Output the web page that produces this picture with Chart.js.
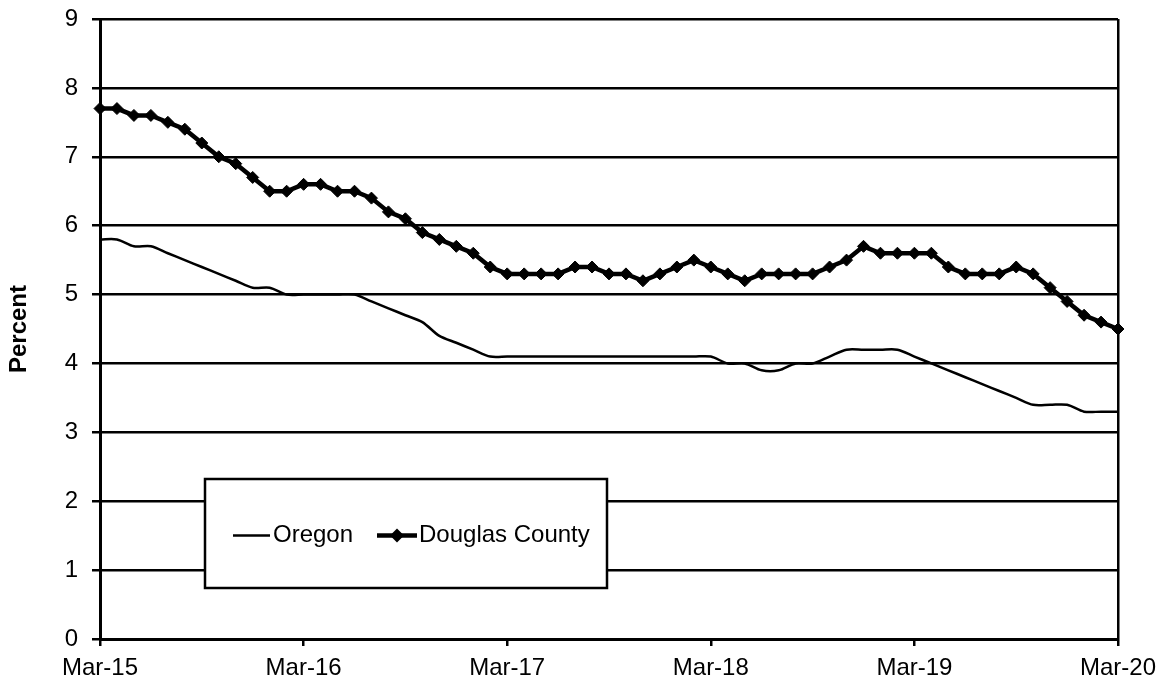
<!DOCTYPE html>
<html>
<head>
<meta charset="utf-8">
<script src="https://cdn.jsdelivr.net/npm/chart.js@4/dist/chart.umd.min.js"></script>
<style>
  html, body { margin: 0; padding: 0; background: #fff; }
  #wrap { width: 1167px; height: 681px; }
</style>
</head>
<body>
<div id="wrap"><canvas id="chart"></canvas></div>
<script>
// monthly, Mar-15 .. Mar-20
const months = [
  'Mar-15','Apr-15','May-15','Jun-15','Jul-15','Aug-15','Sep-15','Oct-15','Nov-15','Dec-15',
  'Jan-16','Feb-16','Mar-16','Apr-16','May-16','Jun-16','Jul-16','Aug-16','Sep-16','Oct-16','Nov-16','Dec-16',
  'Jan-17','Feb-17','Mar-17','Apr-17','May-17','Jun-17','Jul-17','Aug-17','Sep-17','Oct-17','Nov-17','Dec-17',
  'Jan-18','Feb-18','Mar-18','Apr-18','May-18','Jun-18','Jul-18','Aug-18','Sep-18','Oct-18','Nov-18','Dec-18',
  'Jan-19','Feb-19','Mar-19','Apr-19','May-19','Jun-19','Jul-19','Aug-19','Sep-19','Oct-19','Nov-19','Dec-19',
  'Jan-20','Feb-20','Mar-20'
];

const oregon = [
  5.8, 5.8, 5.7, 5.7, 5.6, 5.5, 5.4, 5.3, 5.2, 5.1,
  5.1, 5.0, 5.0, 5.0, 5.0, 5.0, 4.9, 4.8, 4.7, 4.6, 4.4, 4.3,
  4.2, 4.1, 4.1, 4.1, 4.1, 4.1, 4.1, 4.1, 4.1, 4.1, 4.1, 4.1,
  4.1, 4.1, 4.1, 4.0, 4.0, 3.9, 3.9, 4.0, 4.0, 4.1, 4.2, 4.2,
  4.2, 4.2, 4.1, 4.0, 3.9, 3.8, 3.7, 3.6, 3.5, 3.4, 3.4, 3.4,
  3.3, 3.3, 3.3
];

const douglas = [
  7.7, 7.7, 7.6, 7.6, 7.5, 7.4, 7.2, 7.0, 6.9, 6.7,
  6.5, 6.5, 6.6, 6.6, 6.5, 6.5, 6.4, 6.2, 6.1, 5.9, 5.8, 5.7,
  5.6, 5.4, 5.3, 5.3, 5.3, 5.3, 5.4, 5.4, 5.3, 5.3, 5.2, 5.3,
  5.4, 5.5, 5.4, 5.3, 5.2, 5.3, 5.3, 5.3, 5.3, 5.4, 5.5, 5.7,
  5.6, 5.6, 5.6, 5.6, 5.4, 5.3, 5.3, 5.3, 5.4, 5.3, 5.1, 4.9,
  4.7, 4.6, 4.5
];

const yMin = 0, yMax = 9, yStep = 1;
const font = "'Liberation Sans', Arial, sans-serif";

// legend drawn as a framed box inside the plot, like the original
const boxLegend = {
  id: 'boxLegend',
  afterDraw(chart) {
    const ctx = chart.ctx;
    const bx = 205, by = 479, bw = 402, bh = 109;
    const cy = by + bh / 2 + 2;
    ctx.save();
    ctx.fillStyle = '#fff';
    ctx.fillRect(bx, by, bw, bh);
    ctx.lineWidth = 2.5;
    ctx.strokeStyle = '#000';
    ctx.strokeRect(bx, by, bw, bh);

    ctx.font = '24px ' + font;
    ctx.textBaseline = 'middle';
    ctx.fillStyle = '#000';

    // Oregon
    ctx.lineWidth = 2.5;
    ctx.beginPath();
    ctx.moveTo(233, cy);
    ctx.lineTo(270, cy);
    ctx.stroke();
    ctx.fillText(chart.data.datasets[0].label, 273, cy);

    // Douglas County
    ctx.lineWidth = 4.5;
    ctx.beginPath();
    ctx.moveTo(377, cy);
    ctx.lineTo(417, cy);
    ctx.stroke();
    ctx.beginPath();
    ctx.moveTo(390, cy);
    ctx.lineTo(397, cy - 7);
    ctx.lineTo(404, cy);
    ctx.lineTo(397, cy + 7);
    ctx.closePath();
    ctx.fill();
    ctx.fillText(chart.data.datasets[1].label, 419, cy);
    ctx.restore();
  }
};

const ctx = document.getElementById('chart').getContext('2d');
new Chart(ctx, {
  type: 'line',
  data: {
    labels: months,
    datasets: [{
      label: 'Oregon',
      data: oregon,
      borderColor: '#000',
      borderWidth: 2.5,
      pointRadius: 0,
      tension: 0.3,
      fill: false
    }, {
      label: 'Douglas County',
      data: douglas,
      borderColor: '#000',
      backgroundColor: '#000',
      borderWidth: 4.5,
      pointStyle: 'rectRot',
      pointRadius: 6,
      pointBorderWidth: 1,
      tension: 0,
      fill: false
    }]
  },
  options: {
    responsive: true,
    maintainAspectRatio: false,
    animation: false,
    devicePixelRatio: 1,
    layout: { padding: { top: 19, right: 49, left: 0, bottom: 0 } },
    plugins: {
      legend: { display: false },
      tooltip: { enabled: false }
    },
    scales: {
      x: {
        offset: false,
        border: { color: '#000', width: 3 },
        grid: {
          drawOnChartArea: true,
          color: c => c.index === months.length - 1 ? '#000' : 'rgba(0,0,0,0)',
          lineWidth: 2.5,
          tickColor: c => c.index % 12 === 0 ? '#000' : 'rgba(0,0,0,0)',
          tickLength: 7,
          tickWidth: 2.5
        },
        ticks: {
          autoSkip: false,
          maxRotation: 0,
          minRotation: 0,
          padding: 8,
          color: '#000',
          font: { family: font, size: 24 },
          callback: (v, i) => i % 12 === 0 ? months[i] : ''
        },
        afterFit: s => { s.height = 42; }
      },
      y: {
        min: yMin,
        max: yMax,
        border: { color: '#000', width: 3 },
        grid: {
          color: '#000',
          lineWidth: 2.5,
          tickLength: 8,
          tickWidth: 2.5
        },
        ticks: {
          stepSize: yStep,
          padding: 14,
          color: '#000',
          font: { family: font, size: 24 }
        },
        title: {
          display: true,
          text: 'Percent',
          color: '#000',
          padding: { top: 5, bottom: 0 },
          font: { family: font, size: 24, weight: 'bold' }
        },
        afterFit: s => {
          s.width = 100;
          s.paddingTop = 14;
          s.paddingBottom = 14;
        }
      }
    }
  },
  plugins: [boxLegend]
});
</script>
</body>
</html>
